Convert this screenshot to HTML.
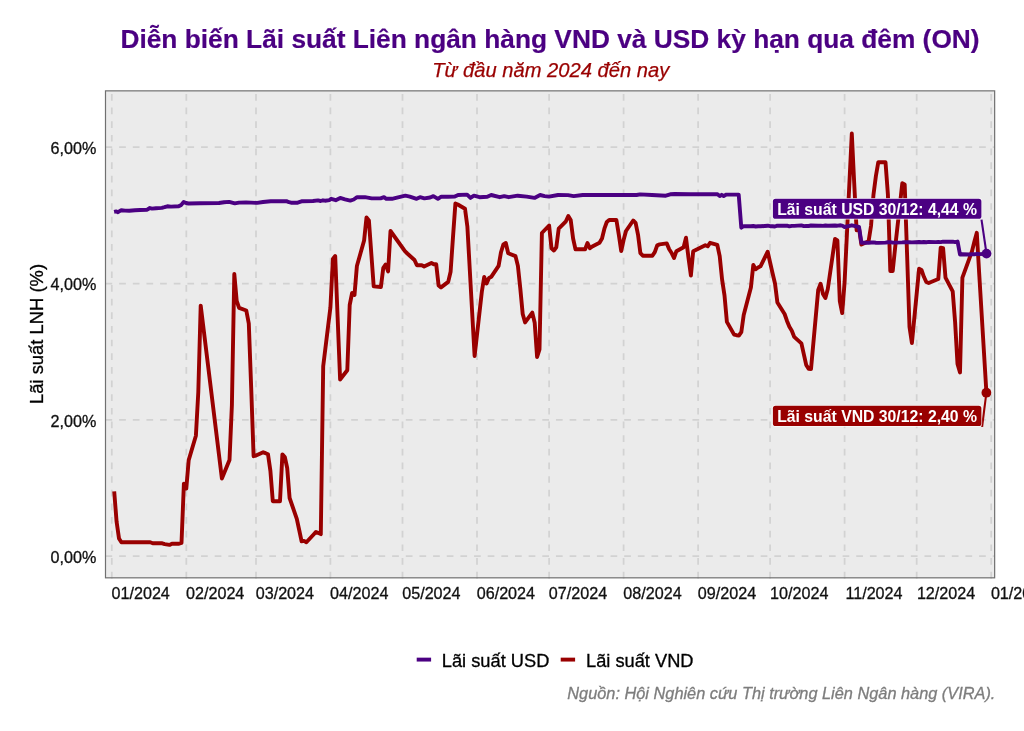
<!DOCTYPE html>
<html lang="vi"><head><meta charset="utf-8"><title>Lãi suất Liên ngân hàng</title>
<style>html,body{margin:0;padding:0;background:#fff;overflow:hidden}svg{display:block}text{font-family:"Liberation Sans",Arial,Helvetica,sans-serif}</style></head><body>
<svg width="1024" height="731" viewBox="0 0 1024 731">
<rect width="1024" height="731" fill="#ffffff"/>
<rect x="105.5" y="90.85" width="889.15" height="486.98" fill="#ebebeb"/>
<g stroke="#d2d2d2" stroke-width="1.75" stroke-dasharray="6.7 6.95" fill="none">
<path d="M105.5,556.1 H994.65"/>
<path d="M105.5,419.8 H994.65"/>
<path d="M105.5,283.5 H994.65"/>
<path d="M105.5,147.1 H994.65"/>
<path d="M111.8,578.38 V90.85"/>
<path d="M186.3,578.38 V90.85"/>
<path d="M256.0,578.38 V90.85"/>
<path d="M330.4,578.38 V90.85"/>
<path d="M402.5,578.38 V90.85"/>
<path d="M477.0,578.38 V90.85"/>
<path d="M549.1,578.38 V90.85"/>
<path d="M623.6,578.38 V90.85"/>
<path d="M698.1,578.38 V90.85"/>
<path d="M770.1,578.38 V90.85"/>
<path d="M844.6,578.38 V90.85"/>
<path d="M916.7,578.38 V90.85"/>
<path d="M991.2,578.38 V90.85"/>
</g>
<path d="M114.2,491.4 L116.6,521.8 L119.0,538.4 L121.4,542.3 L128.6,542.3 L150.2,542.3 L152.7,543.3 L162.3,543.3 L164.7,544.1 L169.5,544.9 L171.9,543.7 L179.1,543.7 L181.5,543.0 L183.9,483.6 L186.3,488.5 L188.7,460.1 L195.9,435.7 L198.3,392.0 L200.7,305.6 L221.9,478.5 L229.5,460.1 L231.9,405.0 L234.3,274.0 L236.7,301.0 L239.1,307.9 L246.3,310.5 L248.8,323.6 L251.2,388.0 L253.6,456.2 L256.0,455.6 L263.2,452.3 L265.6,453.2 L268.0,454.2 L270.4,470.9 L272.8,501.2 L280.0,501.2 L282.4,454.4 L284.8,457.0 L287.2,468.0 L289.6,498.0 L296.8,518.8 L299.2,530.0 L301.6,541.3 L304.0,540.9 L306.4,542.3 L313.6,534.5 L316.0,531.9 L318.4,533.0 L320.8,534.1 L323.2,366.3 L330.4,307.6 L332.9,259.0 L335.2,256.0 L337.6,317.0 L340.1,379.5 L347.3,370.2 L349.7,305.0 L352.1,293.0 L354.5,295.0 L356.9,266.0 L364.1,240.5 L366.5,217.5 L368.9,220.5 L373.7,286.4 L380.9,287.0 L383.3,267.8 L385.7,264.5 L388.1,271.4 L390.5,231.0 L404.9,251.2 L407.3,253.5 L414.5,260.0 L416.9,265.3 L419.4,265.3 L421.8,265.3 L424.1,266.5 L431.4,263.0 L433.8,264.3 L436.2,264.3 L438.6,285.5 L441.0,287.4 L448.2,281.9 L450.6,271.8 L453.0,237.0 L455.4,203.5 L457.8,204.5 L465.0,208.7 L467.4,226.8 L469.8,270.0 L472.2,313.0 L474.6,356.0 L481.8,292.0 L484.2,277.0 L486.6,283.5 L489.0,278.0 L491.4,276.7 L498.6,265.9 L501.0,252.2 L503.4,244.4 L505.8,243.0 L508.2,253.2 L515.5,256.1 L517.9,265.9 L520.3,288.5 L522.7,314.0 L525.1,322.4 L532.3,312.6 L534.7,322.8 L537.1,357.0 L539.5,349.3 L541.9,233.0 L549.1,225.5 L551.5,248.3 L553.9,250.5 L556.3,247.3 L558.7,228.7 L565.9,221.3 L568.3,216.0 L570.7,219.9 L573.1,238.5 L575.5,249.3 L582.7,249.3 L585.1,249.3 L587.5,243.0 L589.9,248.3 L592.3,246.5 L599.5,242.8 L602.0,238.5 L604.4,228.7 L606.8,222.0 L609.2,220.0 L616.4,220.0 L618.8,234.6 L621.2,251.0 L623.6,240.0 L626.0,231.0 L633.2,220.5 L635.6,222.8 L638.0,234.6 L640.4,253.2 L642.8,255.7 L650.0,255.7 L652.4,255.7 L654.8,252.2 L657.2,245.3 L659.6,244.4 L666.8,243.4 L669.2,249.3 L671.6,253.0 L674.0,258.0 L676.4,251.2 L683.6,247.3 L686.0,237.7 L688.5,258.0 L690.9,275.5 L693.2,251.2 L705.3,245.3 L707.7,246.3 L710.1,242.8 L717.3,244.8 L719.7,256.1 L722.1,279.6 L724.5,295.4 L726.9,321.9 L734.1,334.6 L736.5,335.2 L738.9,335.5 L741.3,332.2 L743.7,315.0 L750.9,287.5 L753.3,265.0 L755.7,269.3 L758.1,267.5 L760.5,266.3 L767.7,251.7 L770.1,262.5 L772.5,273.0 L775.0,283.5 L777.4,302.5 L784.6,314.0 L787.0,320.9 L789.4,326.8 L791.8,330.7 L794.2,336.9 L801.4,343.4 L803.8,354.1 L806.2,364.9 L808.6,368.8 L811.0,369.0 L818.2,290.0 L820.6,283.7 L823.0,294.0 L825.4,298.0 L827.8,289.0 L835.0,239.0 L837.4,240.5 L839.8,301.0 L842.2,313.0 L844.6,282.0 L851.8,133.5 L854.2,183.0 L856.6,230.2 L859.0,228.3 L861.4,244.6 L868.6,241.3 L871.0,226.0 L873.5,194.4 L875.9,176.0 L878.3,162.2 L885.5,162.2 L887.9,194.4 L890.3,271.0 L892.7,271.0 L895.1,248.0 L902.3,183.3 L904.7,184.5 L907.1,255.0 L909.5,327.0 L911.9,343.0 L919.1,268.8 L921.5,270.0 L923.9,276.8 L926.3,282.0 L928.7,283.0 L935.9,280.0 L938.3,279.0 L940.7,247.7 L943.1,248.2 L945.5,277.7 L952.7,291.4 L955.1,322.0 L957.5,364.0 L960.0,372.5 L962.4,277.7 L969.6,257.8 L972.0,251.3 L974.4,241.5 L976.8,232.8 L979.2,273.7 L986.4,392.4" fill="none" stroke="#990000" stroke-width="3.9" stroke-linejoin="round" stroke-linecap="butt"/>
<path d="M114.1,211.9 L116.4,211.4 L118.0,212.2 L121.3,210.2 L125.0,210.6 L129.2,210.7 L135.0,210.2 L140.0,210.0 L147.2,209.7 L149.9,208.0 L152.0,208.6 L156.0,208.2 L161.8,207.9 L164.5,207.2 L167.4,206.3 L171.0,206.6 L178.6,206.3 L181.3,204.9 L183.7,201.9 L186.1,203.0 L188.5,203.5 L200.0,203.3 L219.0,203.0 L224.0,202.2 L229.2,201.9 L234.8,203.4 L239.0,202.6 L246.0,202.4 L257.2,202.9 L263.0,202.0 L270.7,201.2 L280.0,201.3 L286.4,201.1 L289.0,202.2 L291.0,202.7 L297.7,202.7 L302.2,201.2 L313.0,201.0 L318.0,200.4 L320.6,201.0 L323.0,200.3 L325.0,200.7 L329.6,200.1 L331.2,198.8 L335.7,200.2 L340.2,197.9 L345.0,199.3 L350.3,200.6 L353.7,199.5 L357.1,197.2 L364.9,197.2 L371.7,198.4 L380.6,198.4 L384.0,197.2 L386.3,198.8 L391.9,198.8 L398.0,197.3 L405.4,195.7 L409.8,196.6 L416.6,198.8 L420.0,197.2 L424.4,198.4 L430.1,197.5 L433.4,196.1 L437.9,198.8 L441.3,196.6 L448.0,196.7 L454.8,196.6 L458.1,195.0 L467.1,194.6 L470.5,197.9 L473.9,195.7 L479.5,197.2 L487.3,196.8 L491.2,195.0 L499.7,197.2 L504.2,196.1 L508.7,197.2 L517.7,195.7 L526.7,196.6 L534.5,197.9 L540.1,195.0 L544.6,196.1 L549.0,196.6 L558.0,195.0 L568.0,195.1 L573.7,196.1 L582.7,195.0 L600.0,195.0 L620.0,195.0 L636.6,195.0 L640.0,194.4 L652.0,195.0 L665.8,195.7 L670.3,194.3 L674.8,194.0 L690.0,194.2 L705.0,194.2 L717.5,194.3 L719.7,196.0 L721.7,194.8 L723.7,196.0 L726.4,194.6 L733.0,194.6 L738.7,194.6 L741.3,227.7 L743.7,226.2 L750.9,226.2 L753.3,226.0 L755.7,226.5 L758.1,226.3 L760.5,226.3 L767.7,225.7 L770.1,226.2 L772.5,226.2 L774.9,226.5 L777.3,225.7 L784.6,225.8 L787.0,225.7 L789.4,226.4 L791.8,225.9 L794.2,225.9 L801.4,225.4 L803.8,226.1 L806.2,225.9 L808.6,226.0 L811.0,225.5 L818.2,225.8 L820.6,225.6 L823.0,225.9 L825.4,225.5 L827.8,225.8 L835.0,225.5 L837.4,225.7 L839.8,225.3 L842.2,225.6 L844.6,227.0 L851.8,225.3 L854.2,225.9 L856.6,226.5 L859.0,226.9 L861.4,242.8 L868.7,242.8 L871.1,242.5 L873.5,242.4 L875.9,242.7 L878.3,242.9 L885.5,242.6 L887.9,242.3 L890.3,242.2 L892.7,242.6 L895.1,242.6 L902.3,242.4 L904.7,242.1 L907.1,242.2 L909.5,242.3 L911.9,242.4 L919.1,242.0 L921.5,242.2 L923.9,242.0 L926.3,242.2 L928.7,241.9 L935.9,242.1 L938.3,241.9 L940.7,242.1 L943.1,241.6 L945.5,241.8 L952.7,241.6 L955.1,242.1 L957.6,241.6 L960.0,254.5 L962.4,254.2 L969.6,254.5 L972.0,254.3 L974.4,254.3 L976.8,253.8 L979.2,254.1 L986.4,253.9" fill="none" stroke="#4B0082" stroke-width="3.9" stroke-linejoin="round" stroke-linecap="butt"/>
<circle cx="986.5" cy="253.6" r="4.9" fill="#4B0082"/>
<circle cx="986.4" cy="392.7" r="4.9" fill="#990000"/>
<path d="M981.5,219.6 L986.5,253.6" stroke="#4B0082" stroke-width="2.1" fill="none"/>
<path d="M982.1,426.9 L986.4,392.7" stroke="#990000" stroke-width="2.1" fill="none"/>
<rect x="772.2" y="198.1" width="209.9" height="21.4" rx="3.3" fill="#ffffff" fill-opacity="0.8"/>
<rect x="772.9" y="198.8" width="208.5" height="20" rx="2.6" fill="#4B0082"/>
<text x="777.2" y="215.3" font-size="15.78" font-weight="bold" fill="#fff">Lãi suất USD 30/12: 4,44 %</text>
<rect x="772.2" y="405.1" width="209.9" height="21.7" rx="3.3" fill="#ffffff" fill-opacity="0.8"/>
<rect x="772.9" y="405.8" width="208.5" height="20.3" rx="2.6" fill="#990000"/>
<text x="777.2" y="421.9" font-size="15.78" font-weight="bold" fill="#fff">Lãi suất VND 30/12: 2,40 %</text>
<rect x="105.5" y="90.85" width="889.15" height="486.98" fill="none" stroke="#707070" stroke-width="1.2"/>
<g font-size="16.15" fill="#111111" stroke="#111111" stroke-width="0.3">
<text x="96.4" y="562.9" text-anchor="end">0,00%</text>
<text x="96.4" y="426.5" text-anchor="end">2,00%</text>
<text x="96.4" y="290.2" text-anchor="end">4,00%</text>
<text x="96.4" y="153.8" text-anchor="end">6,00%</text>
<text x="111.5" y="599.0">01/2024</text>
<text x="186.0" y="599.0">02/2024</text>
<text x="255.7" y="599.0">03/2024</text>
<text x="330.1" y="599.0">04/2024</text>
<text x="402.2" y="599.0">05/2024</text>
<text x="476.7" y="599.0">06/2024</text>
<text x="548.8" y="599.0">07/2024</text>
<text x="623.3" y="599.0">08/2024</text>
<text x="697.8" y="599.0">09/2024</text>
<text x="770.1" y="599.0">10/2024</text>
<text x="845.4" y="599.0">11/2024</text>
<text x="916.9" y="599.0">12/2024</text>
<text x="990.9" y="599.0">01/2025</text>
</g>
<text transform="translate(42.9,334) rotate(-90)" text-anchor="middle" font-size="18.4" fill="#000" stroke="#000" stroke-width="0.3">Lãi suất LNH (%)</text>
<text x="550" y="48.1" text-anchor="middle" font-size="26.3" font-weight="bold" fill="#4B0082" stroke="#4B0082" stroke-width="0.2">Diễn biến Lãi suất Liên ngân hàng VND và USD kỳ hạn qua đêm (ON)</text>
<text x="550.85" y="77.2" text-anchor="middle" font-size="20.18" font-style="italic" fill="#990000" stroke="#990000" stroke-width="0.25">Từ đầu năm 2024 đến nay</text>
<path d="M416.7,659.6 H431.1" stroke="#4B0082" stroke-width="3.9"/>
<text x="441.8" y="667.1" font-size="18.25" fill="#000" stroke="#000" stroke-width="0.3">Lãi suất USD</text>
<path d="M560.7,659.6 H575.1" stroke="#990000" stroke-width="3.9"/>
<text x="586.0" y="667.1" font-size="18.25" fill="#000" stroke="#000" stroke-width="0.3">Lãi suất VND</text>
<text x="995.4" y="699.1" text-anchor="end" font-size="16.33" font-style="italic" fill="#7d7d7d" stroke="#7d7d7d" stroke-width="0.3">Nguồn: Hội Nghiên cứu Thị trường Liên Ngân hàng (VIRA).</text>
</svg></body></html>
